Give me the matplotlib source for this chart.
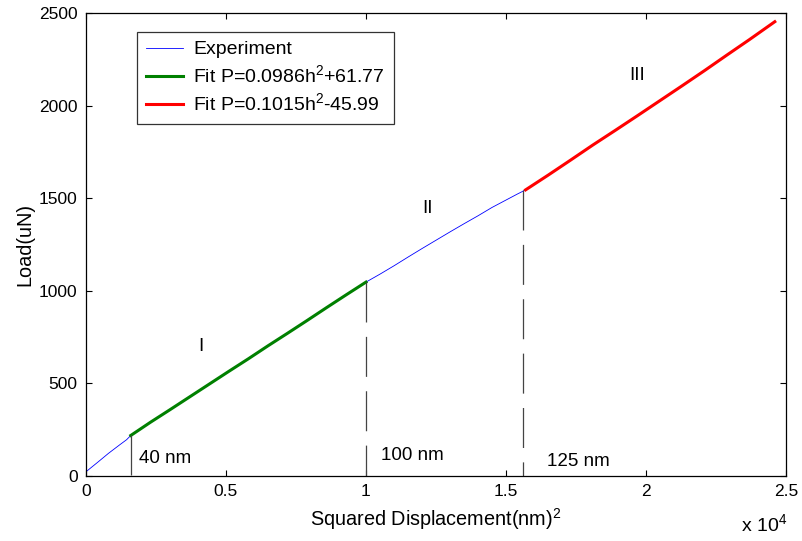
import matplotlib
matplotlib.use("Agg")
import matplotlib.pyplot as plt

plt.rcParams['font.family'] = ['Liberation Sans', 'DejaVu Sans']
plt.rcParams['mathtext.fontset'] = 'custom'
plt.rcParams['mathtext.rm'] = 'Liberation Sans'

# Experiment (squared displacement nm^2, load uN)
exp_x = [0, 400, 800, 1200, 1450, 1600, 2300, 3000, 3700, 4400, 5100, 5800, 6500,
         7200, 7900, 8600, 9300, 10000, 10500, 11000, 11500, 12000, 12500, 13000,
         13500, 14000, 14500, 15000, 15400, 15700, 16500, 17300, 18100, 18900,
         19700, 20500, 21300, 22100, 22900, 23700, 24600]
exp_y = [23, 72, 122, 168, 196, 219, 290, 358, 427, 496, 565, 633, 703,
         771, 840, 910, 979, 1047, 1090, 1135, 1182, 1228, 1273, 1318,
         1362, 1405, 1450, 1490, 1522, 1545, 1624, 1705, 1787, 1866,
         1946, 2027, 2108, 2190, 2274, 2357, 2453]

# Region I fit overlay
fit1_x = [1600, 2300, 3000, 3700, 4400, 5100, 5800, 6500, 7200, 7900, 8600, 9300, 10000]
fit1_y = [219, 290, 358, 427, 496, 565, 633, 703, 771, 840, 910, 979, 1047]

# Region III fit overlay
fit2_x = [15700, 16500, 17300, 18100, 18900, 19700, 20500, 21300, 22100, 22900, 23700, 24600]
fit2_y = [1545, 1624, 1705, 1787, 1866, 1946, 2027, 2108, 2190, 2274, 2357, 2453]

# Boundary markers (h^2, load at curve)
bound_x = [1600, 10000, 15625]
bound_y = [219, 1047, 1545]
bound_labels = ['40 nm', '100 nm', '125 nm']
bound_label_pos = [(1893, 97), (10536, 108), (16464, 76)]

regions = ['I', 'II', 'III']
region_pos = [(4107, 697), (12179, 1447), (19679, 2160)]

xticks = [0, 5000, 10000, 15000, 20000, 25000]
xticklabels = ['0', '0.5', '1', '1.5', '2', '2.5']
yticks = [0, 500, 1000, 1500, 2000, 2500]

FS_TICK = 12.5
FS_LAB = 14.3
FS_LEG = 14
FS_TXT = 13.5

fig = plt.figure(figsize=(8.03, 5.41), dpi=100)
ax = fig.add_axes([86/803, 65/541, 700/803, 463/541])

ax.plot(exp_x, exp_y, color='#0000ff', lw=0.6, label='Experiment')
ax.plot(fit1_x, fit1_y, color='#008000', lw=2.2, label='Fit P=0.0986h$^2$+61.77')
ax.plot(fit2_x, fit2_y, color='#ff0000', lw=2.2, label='Fit P=0.1015h$^2$-45.99')

for bx, by in zip(bound_x, bound_y):
    ax.plot([bx, bx], [by, 0], color='#444444', lw=0.9, linestyle=(0, (32, 11.5)))

for lab, (tx, ty) in zip(bound_labels, bound_label_pos):
    ax.text(tx, ty, lab, fontsize=FS_TXT, va='center', ha='left')
for lab, (tx, ty) in zip(regions, region_pos):
    ax.text(tx, ty, lab, fontsize=FS_TXT, va='center', ha='center')

ax.set_xlim(0, 25000)
ax.set_ylim(0, 2500)
ax.set_xticks(xticks)
ax.set_xticklabels(xticklabels)
ax.set_yticks(yticks)
ax.tick_params(direction='in', length=4, top=True, right=True, labelsize=FS_TICK,
               width=0.8, pad=6)
for s in ax.spines.values():
    s.set_linewidth(0.9)

ax.set_xlabel('Squared Displacement(nm)$^2$', fontsize=FS_LAB, labelpad=5)
ax.set_ylabel('Load(uN)', fontsize=FS_LAB, labelpad=3)

fig.text(741/803, 1 - 525/541, 'x 10$^4$', fontsize=FS_LEG, va='center', ha='left')

leg = ax.legend(loc='upper left', bbox_to_anchor=((137-86)/700, (476-32)/463),
                fontsize=FS_LEG, frameon=True, fancybox=False, edgecolor='black',
                handlelength=1.9, borderpad=0.45, labelspacing=0.3, handletextpad=0.55,
                borderaxespad=0)
leg.get_frame().set_linewidth(0.9)

fig.savefig('out.png', dpi=100)
